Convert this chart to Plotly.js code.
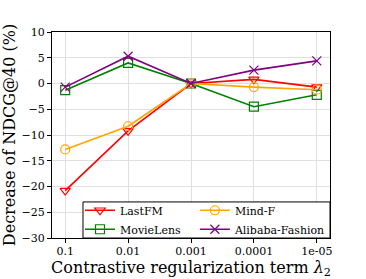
<!DOCTYPE html>
<html><head><meta charset="utf-8">
<script src="https://cdn.plot.ly/plotly-3.0.1.min.js"></script>
<style>html,body{margin:0;padding:0;background:#fff}#chart{width:366px;height:279px}</style>
</head><body><div id="chart"></div>
<script>
const categories = ["0.1", "0.01", "0.001", "0.0001", "1e-05"];
const lastfm = [-20.8, -9.2, 0, 0.8, -0.7];
const movielens = [-1.3, 4.0, 0, -4.5, -2.2];
const mindf = [-12.8, -8.3, 0, -0.7, -1.2];
const alibaba = [-0.7, 5.3, 0, 2.6, 4.4];
const yTicks = [-30, -25, -20, -15, -10, -5, 0, 5, 10];

const F = "DejaVu Serif, serif";
function tr(name, y, color, symbol, lg) {
  return {x: categories, y: y, name: name, type: "scatter", mode: "lines+markers",
    line: {color: color, width: 1.6},
    marker: {symbol: symbol, size: 9, color: color, line: {color: color, width: 1.2}},
    legend: lg};
}
const data = [
  tr("LastFM", lastfm, "#ff0000", "triangle-down-open", "legend"),
  tr("MovieLens", movielens, "#008000", "square-open", "legend"),
  tr("Mind-F", mindf, "#ffa500", "circle-open", "legend2"),
  tr("Alibaba-Fashion", alibaba, "#800080", "x-thin-open", "legend2")
];
const legBase = {orientation: "v", y: 0.205, yanchor: "top", xanchor: "left",
  bgcolor: "rgba(0,0,0,0)", borderwidth: 0, font: {family: F, size: 11}, tracegroupgap: 0};
const layout = {
  width: 366, height: 279,
  margin: {l: 52, r: 36, t: 32, b: 41},
  paper_bgcolor: "#fff", plot_bgcolor: "#fff",
  font: {family: F, size: 11, color: "#000"},
  showlegend: true,
  legend: Object.assign({}, legBase, {x: 0.1007}),
  legend2: Object.assign({}, legBase, {x: 0.514}),
  shapes: [{type: "rect", xref: "paper", yref: "paper", x0: 0.1115, x1: 1, y0: 0, y1: 0.175,
    fillcolor: "#fff", line: {color: "#000", width: 1}, layer: "above"}],
  xaxis: {type: "category", range: [-0.21, 4.21], showgrid: true, gridcolor: "#e0e0e0",
    ticks: "outside", ticklen: 4, tickcolor: "#000", showline: true, linecolor: "#000",
    linewidth: 1, mirror: true, zeroline: false, ticklabelstandoff: -1,
    title: {text: "Contrastive regularization term <i>λ</i><sub>2</sub>", font: {family: F, size: 16}, standoff: 5}},
  yaxis: {range: [-30, 10], tickvals: yTicks, showgrid: true, gridcolor: "#e0e0e0",
    ticks: "outside", ticklen: 4, tickcolor: "#000", showline: true, linecolor: "#000",
    linewidth: 1, mirror: true, zeroline: false,
    title: {text: "Decrease of NDCG@40 (%)", font: {family: F, size: 16}, standoff: 4}}
};
Plotly.newPlot("chart", data, layout, {displayModeBar: false, staticPlot: true});
</script></body></html>
